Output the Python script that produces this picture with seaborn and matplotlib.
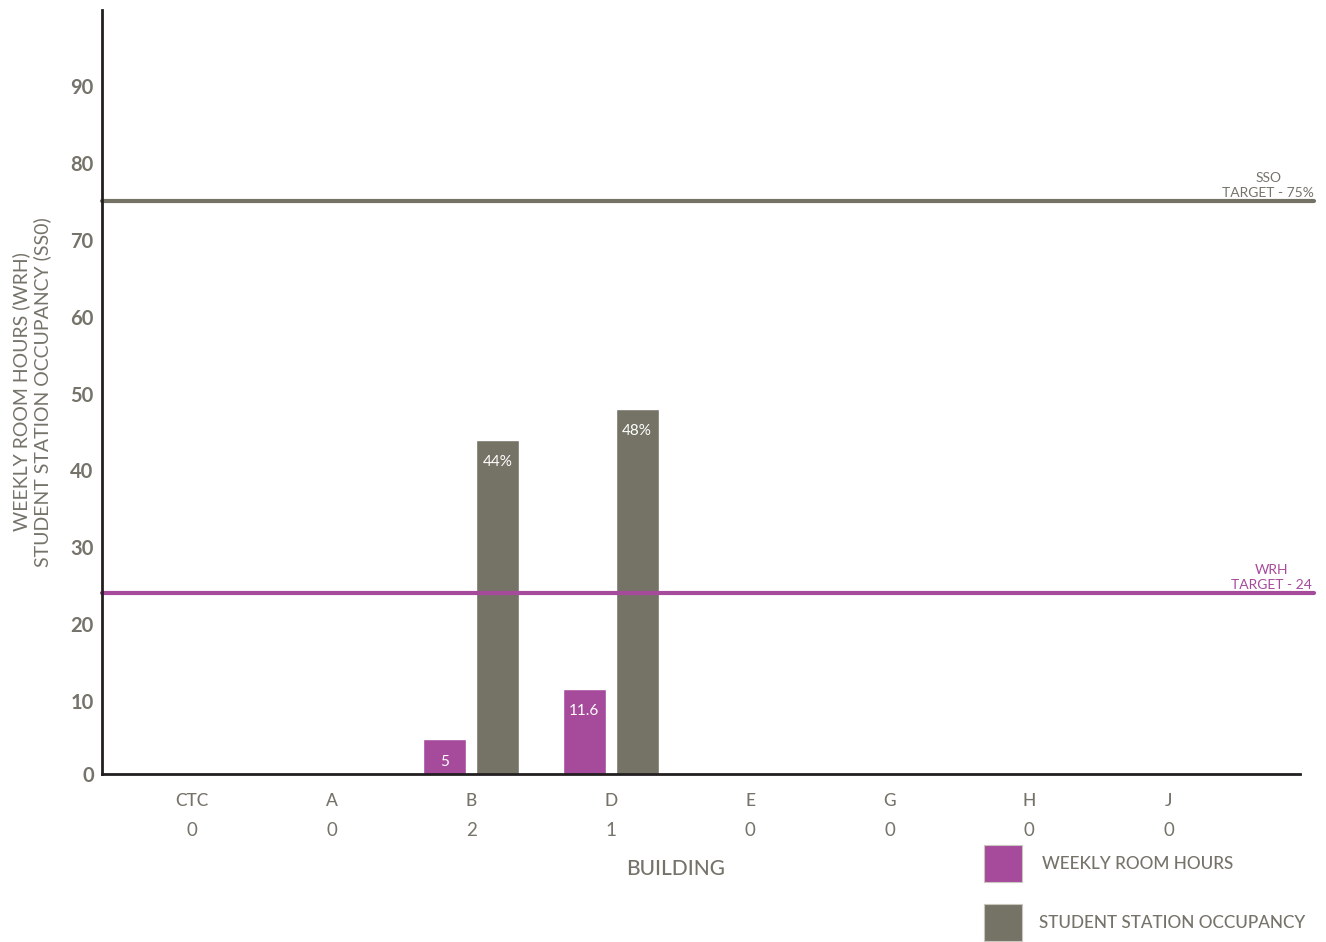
import matplotlib
matplotlib.use("Agg")
import matplotlib.pyplot as plt
from matplotlib.patches import Rectangle
from matplotlib.transforms import offset_copy
import pandas as pd
import seaborn as sns

# Buildings and their metrics
buildings = ["CTC", "A", "B", "D", "E", "G", "H", "J"]
room_counts = [0, 0, 2, 1, 0, 0, 0, 0]
weekly_room_hours = [0, 0, 5, 11.6, 0, 0, 0, 0]
station_occupancy = [0, 0, 44, 48, 0, 0, 0, 0]
wrh_target = 24
sso_target = 75

series_names = ["WEEKLY ROOM HOURS", "STUDENT STATION OCCUPANCY"]
PURPLE = "#A64A9C"
GREY = "#757366"
TEXT = "#75736A"
AXIS = "#231F20"

df = pd.DataFrame({
    "building": buildings * 2,
    "series": [series_names[0]] * len(buildings) + [series_names[1]] * len(buildings),
    "value": weekly_room_hours + station_occupancy,
})

sns.set_theme(style="white")
plt.rcParams["font.family"] = ["Lato", "DejaVu Sans"]

W, H = 1326, 942
fig = plt.figure(figsize=(W / 100, H / 100), dpi=100)
ax = fig.add_axes([102 / W, 168 / H, 1198 / W, 764 / H])

sns.barplot(data=df, x="building", y="value", hue="series", order=buildings,
            hue_order=series_names, palette=[PURPLE, GREY], width=0.76, gap=0.19,
            saturation=1, legend=False, ax=ax)

y_bottom, y_top = 0.5, 99.9
ax.set_xlim(-0.645, 7.94)
ax.set_ylim(y_bottom, y_top)
ax.set_yticks([y_bottom] + list(range(10, 100, 10)))
ax.set_yticklabels([str(v) for v in range(0, 100, 10)])
ax.tick_params(axis="y", length=0, pad=6, labelsize=14.5, labelcolor=TEXT)
for lbl in ax.get_yticklabels():
    lbl.set_fontweight("bold")
ax.tick_params(axis="x", length=0, pad=14, labelsize=12.5, labelcolor=TEXT)
for lbl in ax.get_xticklabels():
    lbl.set_fontweight("medium")
ax.set_xlabel("")
ax.set_ylabel("")

sns.despine(ax=ax)
for side in ("left", "bottom"):
    ax.spines[side].set_color(AXIS)
    ax.spines[side].set_linewidth(2)

fig.text(32 / W, 1 - 392 / H, "WEEKLY ROOM HOURS (WRH)\nSTUDENT STATION OCCUPANCY (SS0)",
         rotation=90, ha="center", va="center", fontsize=14, color=TEXT,
         linespacing=1.2)

# Room count row beneath the building names
count_tf = offset_copy(ax.get_xaxis_transform(), fig=fig, y=-56, units="dots")
for i, c in enumerate(room_counts):
    ax.text(i, 0, str(c), transform=count_tf, ha="center", va="center",
            fontsize=13.5, color=TEXT)

# Value labels inside the bars
for bars, values, fmt in zip(ax.containers, [weekly_room_hours, station_occupancy],
                             ["{:g}", "{:g}%"]):
    for rect, val in zip(bars, values):
        if val > 0:
            ax.annotate(fmt.format(val), (rect.get_x() + rect.get_width() / 2, val),
                        xytext=(0, -16), textcoords="offset points", ha="center",
                        va="center", color="white", fontsize=11)

# Target lines
xmax = (1314 - 102) / 1198
ax.axhline(sso_target, xmin=0, xmax=xmax, color=GREY, lw=3, clip_on=False, zorder=1)
ax.axhline(wrh_target, xmin=0, xmax=xmax, color=PURPLE, lw=3, clip_on=False, zorder=1)
ax.text(xmax, sso_target + 0.35, "SSO\nTARGET - 75%", transform=ax.get_yaxis_transform(),
        ha="right", va="bottom", multialignment="center", fontsize=10, color=TEXT,
        linespacing=1.25)
ax.text(xmax - 0.002, wrh_target + 0.35, "WRH\nTARGET - 24", transform=ax.get_yaxis_transform(),
        ha="right", va="bottom", multialignment="center", fontsize=10, color=PURPLE,
        linespacing=1.25)

fig.text(676 / W, 1 - 869 / H, "BUILDING", ha="center", va="center",
         fontsize=15, color=TEXT, fontweight="medium")

# Legend swatches and labels
legend_rows = [(PURPLE, series_names[0], 845, 1042), (GREY, series_names[1], 904, 1039)]
for color, label, top, text_x in legend_rows:
    fig.add_artist(Rectangle((984 / W, 1 - (top + 37) / H), 38 / W, 37 / H,
                             transform=fig.transFigure, facecolor=color,
                             edgecolor="#C9C6BE", lw=0.8))
    fig.text(text_x / W, 1 - (top + 19) / H, label, ha="left", va="center",
             fontsize=12.3, color=TEXT, fontweight="medium")

fig.savefig("out.png", dpi=100)
